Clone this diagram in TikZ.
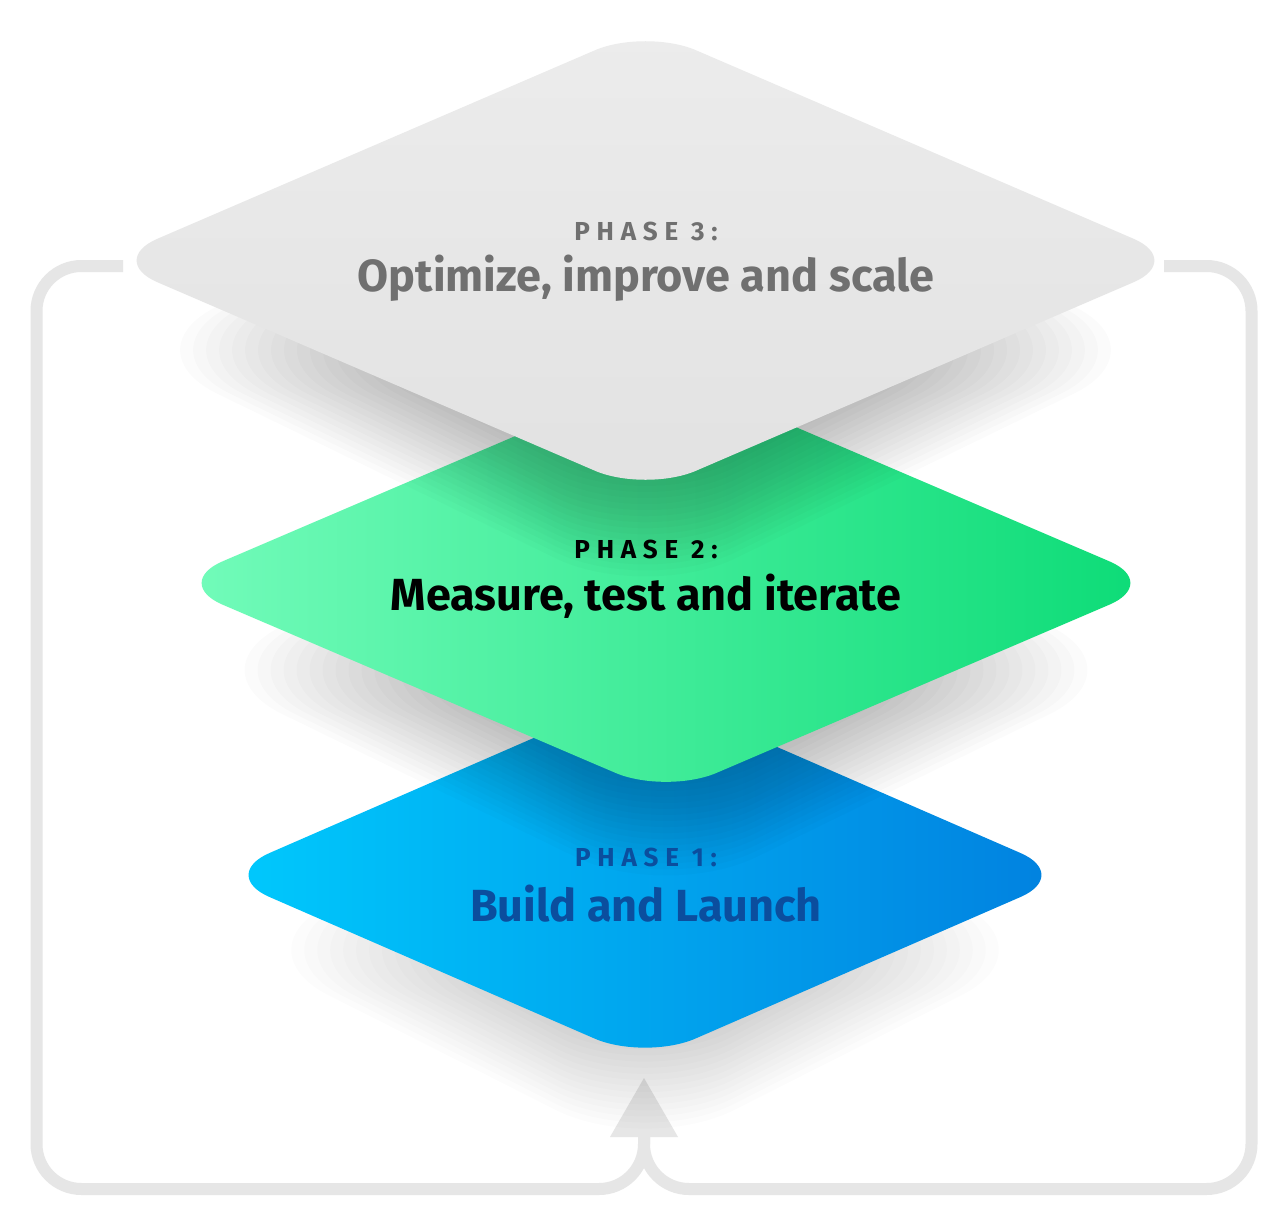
\documentclass[tikz,border=0pt]{standalone}
\usepackage{fontspec}
\setmainfont{Fira Sans}
\usetikzlibrary{calc}
\definecolor{loopc}{HTML}{E6E6E6}
\definecolor{grayA}{HTML}{ECECEC}
\definecolor{grayB}{HTML}{E2E2E2}
\definecolor{grayT}{HTML}{707070}
\definecolor{greenL}{HTML}{74FCBB}
\definecolor{greenR}{HTML}{0BDB76}
\definecolor{blueL}{HTML}{00CAFD}
\definecolor{blueR}{HTML}{0180DF}
\definecolor{blueT}{HTML}{0B4E9E}
\newcommand\dpath[4]{({#1},{(#2)-(#4)}) -- ({(#1)+(#3)},{#2}) -- ({#1},{(#2)+(#4)}) -- ({(#1)-(#3)},{#2}) -- cycle}
% #1 cx, #2 cy, #3 hw, #4 hh, #5 opacity
\newcommand\dshadow[5]{%
  \foreach \k in {0,...,19}{%
    \fill[black,opacity=#5,rounded corners=100]
      \dpath{#1}{#2}{#3-20-\k*13}{#4+20-\k*6};
  }}
\tikzset{
  loopline/.style={draw=loopc,line width=12pt,rounded corners=45},
  phase/.style={font=\fontsize{26}{30}\selectfont\bfseries\addfontfeature{LetterSpace=26},anchor=center},
  title/.style={font=\fontsize{45}{52}\selectfont\bfseries,anchor=center},
  dia/.style={rounded corners=55}
}
\begin{document}
\begin{tikzpicture}[x=1pt,y=-1pt]
\useasboundingbox (0,0) rectangle (1288,1218);
\fill[white] (0,0) rectangle (1288,1218);
% loop
\coordinate (ls) at (123,266);
\coordinate (ltc) at (36.5,266);
\coordinate (lbc) at (36.5,1189);
\coordinate (rs) at (1164,266);
\coordinate (rtc) at (1251.5,266);
\coordinate (rbc) at (1251.5,1189);
\coordinate (jn) at (644,1189);
\coordinate (stem) at (644,1110);
\draw[loopline] (ls) -- (ltc) -- (lbc) -- (jn) -- (stem);
\draw[loopline] (rs) -- (rtc) -- (rbc) -- (jn) -- (stem);
\coordinate (tip) at (644,1078);
\fill[loopc] (tip) -- (678,1137) -- (610,1137) -- cycle;
% phase 1
\dshadow{645}{950}{426}{185}{0.013}
\shade[dia,left color=blueL,right color=blueR] \dpath{645}{875}{426}{185.5};
% phase 2
\dshadow{666}{670}{494}{211}{0.015}
\shade[dia,left color=greenL,right color=greenR] \dpath{666}{583}{494}{211.5};
% phase 3
\dshadow{645.5}{350}{538}{232}{0.016}
\shade[dia,top color=grayA,bottom color=grayB] \dpath{645.5}{260.5}{538.5}{232};
% texts
\node[phase,text=grayT] (p3l) at (646,231) {PHASE 3:};
\node[title,text=grayT] (p3) at (646,278) {Optimize, improve and scale};
\node[phase,text=black] (p2l) at (646,549) {PHASE 2:};
\node[title,text=black] (p2) at (646,596) {Measure, test and iterate};
\node[phase,text=blueT] (p1l) at (646,857) {PHASE 1:};
\node[title,text=blueT] (p1) at (646,904) {Build and Launch};
\end{tikzpicture}
\end{document}
